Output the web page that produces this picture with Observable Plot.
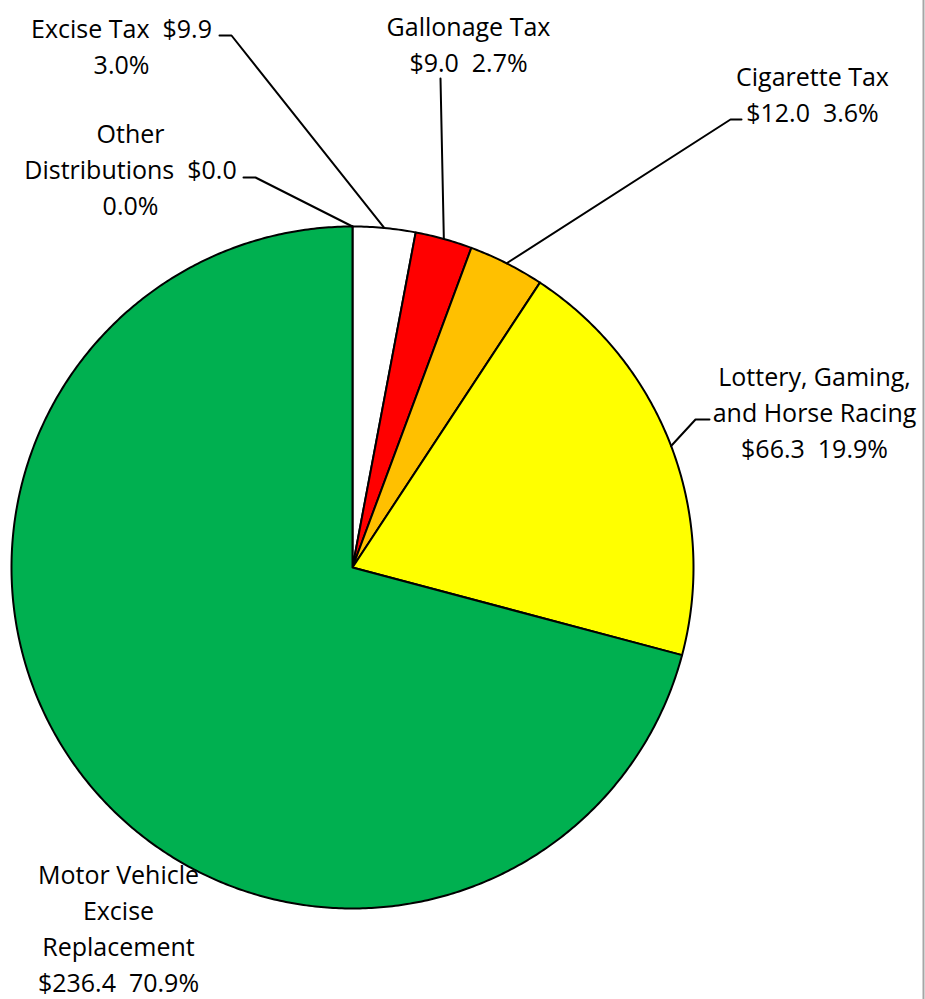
<!DOCTYPE html>
<html>
<head>
<meta charset="utf-8">
<script src="https://cdn.jsdelivr.net/npm/d3@7"></script>
<script src="https://cdn.jsdelivr.net/npm/@observablehq/plot@0.6"></script>
<style>
  body { margin: 0; background: #fff; }
  #chart { width: 925px; height: 999px; }
  #chart svg text, #chart svg tspan { white-space: pre; }
</style>
</head>
<body>
<div id="chart"></div>
<script>
// ---- data ----
const categories = ["Other Distributions", "Excise Tax", "Gallonage Tax", "Cigarette Tax", "Lottery, Gaming, and Horse Racing", "Motor Vehicle Excise Replacement"];
const values = [0.0, 9.9, 9.0, 12.0, 66.3, 236.4];
const percents = ["0.0%", "3.0%", "2.7%", "3.6%", "19.9%", "70.9%"];
const labelTexts = [
  "Other\nDistributions  $0.0\n0.0%",
  "Excise Tax  $9.9\n3.0%",
  "Gallonage Tax\n$9.0  2.7%",
  "Cigarette Tax\n$12.0  3.6%",
  "Lottery, Gaming,\nand Horse Racing\n$66.3  19.9%",
  "Motor Vehicle\nExcise\nReplacement\n$236.4  70.9%"
];

// ---- styles / layout ----
const colors = ["#FFFFFF", "#FFFFFF", "#FF0000", "#FFC000", "#FFFF00", "#00B050"];
const W = 925, H = 999;
const cx = 352, cy = 567, R = 341;
const fontSize = 25;
// label block centres and leader elbow points (label side)
const labelPos = [
  {x: 130, y: 167, elbow: [[243, 177], [255, 177]]},
  {x: 121, y: 44,  elbow: [[219, 35], [231, 35]]},
  {x: 468, y: 42,  elbow: [[440, 78]]},
  {x: 812, y: 92,  elbow: [[741, 119], [730, 119]]},
  {x: 814, y: 410, elbow: [[709, 419], [695, 419]]},
  {x: 118, y: 926, elbow: null}
];

// ---- pie geometry from data ----
const arcs = d3.pie().sort(null).value(d => d)(values);
const pt = (a, r) => ({x: cx + r * Math.sin(a), y: cy - r * Math.cos(a)});
const slices = [];
arcs.forEach((a, i) => {
  const n = Math.max(2, Math.ceil((a.endAngle - a.startAngle) / (Math.PI / 360)));
  slices.push({k: i, ...pt(0, 0)});
  for (let j = 0; j <= n; j++) {
    const ang = a.startAngle + (a.endAngle - a.startAngle) * j / n;
    slices.push({k: i, ...pt(ang, R)});
  }
  slices.push({k: i, ...pt(0, 0)});
});

// leader lines: from mid-arc of each slice to elbow
const leaders = [];
arcs.forEach((a, i) => {
  const lp = labelPos[i];
  if (!lp.elbow) return;
  const mid = (a.startAngle + a.endAngle) / 2;
  const p = pt(mid, R);
  leaders.push({k: i, x: p.x, y: p.y});
  [...lp.elbow].reverse().forEach(e => leaders.push({k: i, x: e[0], y: e[1]}));
});

const labels = labelTexts.map((t, i) => ({text: t, x: labelPos[i].x, y: labelPos[i].y}));

const chart = Plot.plot({
  width: W,
  height: H,
  margin: 0,
  x: {domain: [0, W], range: [0, W], axis: null},
  y: {domain: [0, H], range: [0, H], axis: null},
  style: {fontFamily: "'Open Sans', 'Noto Sans', sans-serif", background: "#fff"},
  marks: [
    Plot.line(slices, {x: "x", y: "y", z: "k", fill: d => colors[d.k], stroke: "#000", strokeWidth: 2, strokeLinejoin: "round", curve: "linear"}),
    Plot.line(leaders, {x: "x", y: "y", z: "k", stroke: "#000", strokeWidth: 2, curve: "linear"}),
    Plot.text(labels, {x: "x", y: "y", text: "text", textAnchor: "middle", lineAnchor: "middle", lineHeight: 36 / fontSize, fontSize: fontSize, fill: "#000"}),
    Plot.ruleX([923], {stroke: "#A6A6A6", strokeWidth: 2})
  ]
});
document.getElementById("chart").appendChild(chart);
</script>
</body>
</html>
